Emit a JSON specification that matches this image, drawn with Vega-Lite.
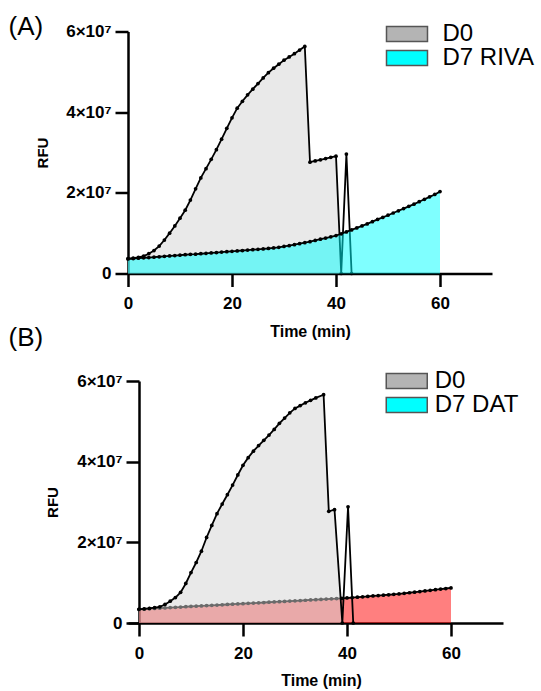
{
  "$schema": "https://vega.github.io/schema/vega-lite/v6.json",
  "background": "white",
  "padding": {"left": 8, "top": 13.5, "right": 2, "bottom": 0},
  "config": {
    "view": {"stroke": null},
    "font": "Liberation Sans",
    "axis": {
      "labelFont": "Liberation Sans", "titleFont": "Liberation Sans",
      "domainColor": "black", "domainWidth": 2.5, "tickColor": "black", "tickWidth": 2.5, "tickSize": 13,
      "labelColor": "black", "labelFontSize": 17, "labelFontWeight": "bold", "labelFlush": false,
      "titleColor": "black", "titleFontWeight": "bold", "grid": false
    },
    "legend": {
      "orient": "none", "title": null, "padding": 0,
      "symbolType": "M-2.733,-1H2.733V1H-2.733Z", "symbolSize": 225, "symbolOpacity": 1,
      "symbolStrokeColor": "#555555", "symbolStrokeWidth": 1.5,
      "labelFont": "Liberation Sans", "labelFontSize": 24, "labelColor": "black", "labelLimit": 300,
      "rowPadding": -3
    },
    "title": {"font": "Liberation Sans", "fontSize": 26, "fontWeight": "normal", "color": "black", "anchor": "start", "frame": "group"}
  },
  "datasets": {
    "A": [
      {"s": "D0", "t": 0, "v": 3.7e6}, {"s": "D0", "t": 1, "v": 3.8e6}, {"s": "D0", "t": 2, "v": 4.0e6}, {"s": "D0", "t": 3, "v": 4.3e6},
      {"s": "D0", "t": 4, "v": 4.9e6}, {"s": "D0", "t": 5, "v": 5.7e6}, {"s": "D0", "t": 6, "v": 6.8e6}, {"s": "D0", "t": 7, "v": 8.3e6},
      {"s": "D0", "t": 8, "v": 1.0e7}, {"s": "D0", "t": 9, "v": 1.18e7}, {"s": "D0", "t": 10, "v": 1.37e7}, {"s": "D0", "t": 11, "v": 1.57e7},
      {"s": "D0", "t": 12, "v": 1.82e7}, {"s": "D0", "t": 13, "v": 2.1e7}, {"s": "D0", "t": 14, "v": 2.37e7}, {"s": "D0", "t": 15, "v": 2.6e7},
      {"s": "D0", "t": 16, "v": 2.83e7}, {"s": "D0", "t": 17, "v": 3.07e7}, {"s": "D0", "t": 18, "v": 3.33e7}, {"s": "D0", "t": 19, "v": 3.6e7},
      {"s": "D0", "t": 20, "v": 3.86e7}, {"s": "D0", "t": 21, "v": 4.1e7}, {"s": "D0", "t": 22, "v": 4.27e7}, {"s": "D0", "t": 23, "v": 4.43e7},
      {"s": "D0", "t": 24, "v": 4.57e7}, {"s": "D0", "t": 25, "v": 4.71e7}, {"s": "D0", "t": 26, "v": 4.85e7}, {"s": "D0", "t": 27, "v": 4.98e7},
      {"s": "D0", "t": 28, "v": 5.09e7}, {"s": "D0", "t": 29, "v": 5.19e7}, {"s": "D0", "t": 30, "v": 5.29e7}, {"s": "D0", "t": 31, "v": 5.37e7},
      {"s": "D0", "t": 32, "v": 5.45e7}, {"s": "D0", "t": 33, "v": 5.54e7}, {"s": "D0", "t": 34, "v": 5.63e7}, {"s": "D0", "t": 35, "v": 2.76e7},
      {"s": "D0", "t": 36, "v": 2.79e7}, {"s": "D0", "t": 37, "v": 2.82e7}, {"s": "D0", "t": 38, "v": 2.85e7}, {"s": "D0", "t": 39, "v": 2.88e7},
      {"s": "D0", "t": 40, "v": 2.91e7}, {"s": "D0", "t": 41, "v": 0}, {"s": "D0", "t": 42, "v": 2.96e7}, {"s": "D0", "t": 43, "v": 0},
      {"s": "D7 RIVA", "t": 0, "v": 3.6e6}, {"s": "D7 RIVA", "t": 1, "v": 3.7e6}, {"s": "D7 RIVA", "t": 2, "v": 3.8e6}, {"s": "D7 RIVA", "t": 3, "v": 3.9e6},
      {"s": "D7 RIVA", "t": 4, "v": 3.95e6}, {"s": "D7 RIVA", "t": 5, "v": 4.05e6}, {"s": "D7 RIVA", "t": 6, "v": 4.15e6}, {"s": "D7 RIVA", "t": 7, "v": 4.25e6},
      {"s": "D7 RIVA", "t": 8, "v": 4.35e6}, {"s": "D7 RIVA", "t": 9, "v": 4.45e6}, {"s": "D7 RIVA", "t": 10, "v": 4.55e6}, {"s": "D7 RIVA", "t": 11, "v": 4.65e6},
      {"s": "D7 RIVA", "t": 12, "v": 4.75e6}, {"s": "D7 RIVA", "t": 13, "v": 4.8e6}, {"s": "D7 RIVA", "t": 14, "v": 4.9e6}, {"s": "D7 RIVA", "t": 15, "v": 5.0e6},
      {"s": "D7 RIVA", "t": 16, "v": 5.1e6}, {"s": "D7 RIVA", "t": 17, "v": 5.2e6}, {"s": "D7 RIVA", "t": 18, "v": 5.3e6}, {"s": "D7 RIVA", "t": 19, "v": 5.4e6},
      {"s": "D7 RIVA", "t": 20, "v": 5.5e6}, {"s": "D7 RIVA", "t": 21, "v": 5.6e6}, {"s": "D7 RIVA", "t": 22, "v": 5.7e6}, {"s": "D7 RIVA", "t": 23, "v": 5.8e6},
      {"s": "D7 RIVA", "t": 24, "v": 5.9e6}, {"s": "D7 RIVA", "t": 25, "v": 6.0e6}, {"s": "D7 RIVA", "t": 26, "v": 6.1e6}, {"s": "D7 RIVA", "t": 27, "v": 6.2e6},
      {"s": "D7 RIVA", "t": 28, "v": 6.35e6}, {"s": "D7 RIVA", "t": 29, "v": 6.5e6}, {"s": "D7 RIVA", "t": 30, "v": 6.7e6}, {"s": "D7 RIVA", "t": 31, "v": 6.9e6},
      {"s": "D7 RIVA", "t": 32, "v": 7.15e6}, {"s": "D7 RIVA", "t": 33, "v": 7.4e6}, {"s": "D7 RIVA", "t": 34, "v": 7.65e6}, {"s": "D7 RIVA", "t": 35, "v": 7.9e6},
      {"s": "D7 RIVA", "t": 36, "v": 8.2e6}, {"s": "D7 RIVA", "t": 37, "v": 8.5e6}, {"s": "D7 RIVA", "t": 38, "v": 8.8e6}, {"s": "D7 RIVA", "t": 39, "v": 9.1e6},
      {"s": "D7 RIVA", "t": 40, "v": 9.4e6}, {"s": "D7 RIVA", "t": 41, "v": 9.85e6}, {"s": "D7 RIVA", "t": 42, "v": 1.03e7}, {"s": "D7 RIVA", "t": 43, "v": 1.08e7},
      {"s": "D7 RIVA", "t": 44, "v": 1.13e7}, {"s": "D7 RIVA", "t": 45, "v": 1.18e7}, {"s": "D7 RIVA", "t": 46, "v": 1.23e7}, {"s": "D7 RIVA", "t": 47, "v": 1.285e7},
      {"s": "D7 RIVA", "t": 48, "v": 1.34e7}, {"s": "D7 RIVA", "t": 49, "v": 1.39e7}, {"s": "D7 RIVA", "t": 50, "v": 1.445e7}, {"s": "D7 RIVA", "t": 51, "v": 1.5e7},
      {"s": "D7 RIVA", "t": 52, "v": 1.555e7}, {"s": "D7 RIVA", "t": 53, "v": 1.61e7}, {"s": "D7 RIVA", "t": 54, "v": 1.665e7}, {"s": "D7 RIVA", "t": 55, "v": 1.72e7},
      {"s": "D7 RIVA", "t": 56, "v": 1.78e7}, {"s": "D7 RIVA", "t": 57, "v": 1.84e7}, {"s": "D7 RIVA", "t": 58, "v": 1.9e7}, {"s": "D7 RIVA", "t": 59, "v": 1.96e7},
      {"s": "D7 RIVA", "t": 60, "v": 2.03e7}
    ],
    "B": [
      {"s": "D0", "t": 0, "v": 3.4e6}, {"s": "D0", "t": 1, "v": 3.5e6}, {"s": "D0", "t": 2, "v": 3.6e6}, {"s": "D0", "t": 3, "v": 3.8e6},
      {"s": "D0", "t": 4, "v": 4.0e6}, {"s": "D0", "t": 5, "v": 4.6e6}, {"s": "D0", "t": 6, "v": 5.4e6}, {"s": "D0", "t": 7, "v": 6.3e6},
      {"s": "D0", "t": 8, "v": 7.6e6}, {"s": "D0", "t": 9, "v": 9.8e6}, {"s": "D0", "t": 10, "v": 1.25e7}, {"s": "D0", "t": 11, "v": 1.5e7},
      {"s": "D0", "t": 12, "v": 1.78e7}, {"s": "D0", "t": 13, "v": 2.12e7}, {"s": "D0", "t": 14, "v": 2.42e7}, {"s": "D0", "t": 15, "v": 2.71e7},
      {"s": "D0", "t": 16, "v": 2.95e7}, {"s": "D0", "t": 17, "v": 3.18e7}, {"s": "D0", "t": 18, "v": 3.42e7}, {"s": "D0", "t": 19, "v": 3.67e7},
      {"s": "D0", "t": 20, "v": 3.91e7}, {"s": "D0", "t": 21, "v": 4.1e7}, {"s": "D0", "t": 22, "v": 4.26e7}, {"s": "D0", "t": 23, "v": 4.4e7},
      {"s": "D0", "t": 24, "v": 4.53e7}, {"s": "D0", "t": 25, "v": 4.66e7}, {"s": "D0", "t": 26, "v": 4.8e7}, {"s": "D0", "t": 27, "v": 4.95e7},
      {"s": "D0", "t": 28, "v": 5.08e7}, {"s": "D0", "t": 29, "v": 5.21e7}, {"s": "D0", "t": 30, "v": 5.32e7}, {"s": "D0", "t": 31, "v": 5.39e7},
      {"s": "D0", "t": 32, "v": 5.46e7}, {"s": "D0", "t": 33, "v": 5.52e7}, {"s": "D0", "t": 34, "v": 5.58e7}, {"s": "D0", "t": 35.5, "v": 5.66e7},
      {"s": "D0", "t": 36.5, "v": 2.77e7}, {"s": "D0", "t": 37.6, "v": 2.81e7}, {"s": "D0", "t": 39.1, "v": 0}, {"s": "D0", "t": 40.2, "v": 2.88e7},
      {"s": "D0", "t": 41.2, "v": 0},
      {"s": "D7 DAT", "t": 0, "v": 3.4e6}, {"s": "D7 DAT", "t": 1, "v": 3.47e6}, {"s": "D7 DAT", "t": 2, "v": 3.54e6}, {"s": "D7 DAT", "t": 3, "v": 3.61e6},
      {"s": "D7 DAT", "t": 4, "v": 3.68e6}, {"s": "D7 DAT", "t": 5, "v": 3.75e6}, {"s": "D7 DAT", "t": 6, "v": 3.82e6}, {"s": "D7 DAT", "t": 7, "v": 3.89e6},
      {"s": "D7 DAT", "t": 8, "v": 3.96e6}, {"s": "D7 DAT", "t": 9, "v": 4.03e6}, {"s": "D7 DAT", "t": 10, "v": 4.1e6}, {"s": "D7 DAT", "t": 11, "v": 4.17e6},
      {"s": "D7 DAT", "t": 12, "v": 4.24e6}, {"s": "D7 DAT", "t": 13, "v": 4.31e6}, {"s": "D7 DAT", "t": 14, "v": 4.38e6}, {"s": "D7 DAT", "t": 15, "v": 4.45e6},
      {"s": "D7 DAT", "t": 16, "v": 4.52e6}, {"s": "D7 DAT", "t": 17, "v": 4.59e6}, {"s": "D7 DAT", "t": 18, "v": 4.66e6}, {"s": "D7 DAT", "t": 19, "v": 4.73e6},
      {"s": "D7 DAT", "t": 20, "v": 4.8e6}, {"s": "D7 DAT", "t": 21, "v": 4.87e6}, {"s": "D7 DAT", "t": 22, "v": 4.94e6}, {"s": "D7 DAT", "t": 23, "v": 5.01e6},
      {"s": "D7 DAT", "t": 24, "v": 5.08e6}, {"s": "D7 DAT", "t": 25, "v": 5.15e6}, {"s": "D7 DAT", "t": 26, "v": 5.22e6}, {"s": "D7 DAT", "t": 27, "v": 5.29e6},
      {"s": "D7 DAT", "t": 28, "v": 5.36e6}, {"s": "D7 DAT", "t": 29, "v": 5.43e6}, {"s": "D7 DAT", "t": 30, "v": 5.5e6}, {"s": "D7 DAT", "t": 31, "v": 5.57e6},
      {"s": "D7 DAT", "t": 32, "v": 5.64e6}, {"s": "D7 DAT", "t": 33, "v": 5.71e6}, {"s": "D7 DAT", "t": 34, "v": 5.78e6}, {"s": "D7 DAT", "t": 35, "v": 5.85e6},
      {"s": "D7 DAT", "t": 36, "v": 5.92e6}, {"s": "D7 DAT", "t": 37, "v": 5.99e6}, {"s": "D7 DAT", "t": 38, "v": 6.06e6}, {"s": "D7 DAT", "t": 39, "v": 6.13e6},
      {"s": "D7 DAT", "t": 40, "v": 6.2e6}, {"s": "D7 DAT", "t": 41, "v": 6.3e6}, {"s": "D7 DAT", "t": 42, "v": 6.4e6}, {"s": "D7 DAT", "t": 43, "v": 6.5e6},
      {"s": "D7 DAT", "t": 44, "v": 6.6e6}, {"s": "D7 DAT", "t": 45, "v": 6.7e6}, {"s": "D7 DAT", "t": 46, "v": 6.8e6}, {"s": "D7 DAT", "t": 47, "v": 6.9e6},
      {"s": "D7 DAT", "t": 48, "v": 7.0e6}, {"s": "D7 DAT", "t": 49, "v": 7.1e6}, {"s": "D7 DAT", "t": 50, "v": 7.2e6}, {"s": "D7 DAT", "t": 51, "v": 7.35e6},
      {"s": "D7 DAT", "t": 52, "v": 7.5e6}, {"s": "D7 DAT", "t": 53, "v": 7.65e6}, {"s": "D7 DAT", "t": 54, "v": 7.8e6}, {"s": "D7 DAT", "t": 55, "v": 7.95e6},
      {"s": "D7 DAT", "t": 56, "v": 8.1e6}, {"s": "D7 DAT", "t": 57, "v": 8.25e6}, {"s": "D7 DAT", "t": 58, "v": 8.4e6}, {"s": "D7 DAT", "t": 59, "v": 8.55e6},
      {"s": "D7 DAT", "t": 60, "v": 8.7e6}
    ]
  },
  "concat": [
    {
      "width": 364, "height": 242,
      "title": {"text": "(A)", "dx": -119.5, "offset": -18},
      "data": {"name": "A"},
      "encoding": {
        "x": {"field": "t", "type": "quantitative", "title": "Time (min)",
              "scale": {"domain": [0, 70], "nice": false, "zero": false},
              "axis": {"values": [0, 20, 40, 60], "tickSize": 13, "labelPadding": 9, "titleFontSize": 16, "titlePadding": 12}},
        "y": {"field": "v", "type": "quantitative", "title": "RFU",
              "scale": {"domain": [0, 60000000], "nice": false},
              "axis": {"values": [0, 20000000, 40000000, 60000000], "tickSize": 13, "labelExpr": "datum.value == 0 ? '0' : format(datum.value / 10000000, 'd') + '×10⁷'",
                       "labelPadding": 4, "titleFontSize": 15, "titlePadding": 15}}
      },
      "layer": [
        {"transform": [{"filter": "datum.s == 'D0' && datum.t <= 41"}],
         "mark": {"type": "area", "color": "#d4d4d4", "opacity": 0.5}},
        {"transform": [{"filter": "datum.s == 'D0'"}],
         "mark": {"type": "line", "color": "black", "strokeWidth": 1.8, "point": {"filled": true, "size": 14, "color": "black"}}},
        {"transform": [{"filter": "datum.s == 'D7 RIVA'"}],
         "mark": {"type": "area", "color": "#00ffff", "opacity": 0.5}},
        {"transform": [{"filter": "datum.s == 'D7 RIVA'"}],
         "mark": {"type": "line", "color": "black", "strokeWidth": 1.8, "point": {"filled": true, "size": 14, "color": "black"}}},
        {"mark": {"type": "square", "opacity": 0},
         "encoding": {"color": {"field": "s", "type": "nominal",
           "scale": {"domain": ["D0", "D7 RIVA"], "range": ["#b4b4b4", "#00ffff"]},
           "legend": {"legendX": 267, "legendY": -9.5, "labelOffset": 23.5,
             "encode": {"symbols": {"update": {"stroke": {"value": "#555555"}, "strokeWidth": {"value": 1.5}, "opacity": {"value": 1}}}}}}}}
      ]
    },
    {
      "width": 375, "height": 242,
      "title": {"text": "(B)", "dx": -119.5, "offset": 18},
      "data": {"name": "B"},
      "encoding": {
        "x": {"field": "t", "type": "quantitative", "title": "Time (min)",
              "scale": {"domain": [-2.115, 70], "nice": false, "zero": false},
              "axis": {"values": [0, 20, 40, 60], "tickSize": 13, "labelPadding": 9, "titleFontSize": 16, "titlePadding": 11, "titleX": 193}},
        "y": {"field": "v", "type": "quantitative", "title": "RFU",
              "scale": {"domain": [0, 60000000], "nice": false},
              "axis": {"offset": -11, "tickSize": 13, "values": [0, 20000000, 40000000, 60000000], "labelExpr": "datum.value == 0 ? '0' : format(datum.value / 10000000, 'd') + '×10⁷'",
                       "labelPadding": 4, "titleFontSize": 15, "titlePadding": 16}}
      },
      "layer": [
        {"transform": [{"filter": "datum.s == 'D7 DAT'"}],
         "mark": {"type": "area", "color": "#ff0000", "opacity": 0.5}},
        {"transform": [{"filter": "datum.s == 'D7 DAT'"}],
         "mark": {"type": "line", "color": "black", "strokeWidth": 1.8, "point": {"filled": true, "size": 14, "color": "black"}}},
        {"transform": [{"filter": "datum.s == 'D0' && datum.t <= 39.1"}],
         "mark": {"type": "area", "color": "#d4d4d4", "opacity": 0.5}},
        {"transform": [{"filter": "datum.s == 'D0'"}],
         "mark": {"type": "line", "color": "black", "strokeWidth": 1.8, "point": {"filled": true, "size": 14, "color": "black"}}},
        {"mark": {"type": "square", "opacity": 0},
         "encoding": {"color": {"field": "s", "type": "nominal",
           "scale": {"domain": ["D0", "D7 DAT"], "range": ["#b4b4b4", "#00ffff"]},
           "legend": {"legendX": 266.75, "legendY": -12, "labelOffset": 16,
             "encode": {"symbols": {"update": {"stroke": {"value": "#555555"}, "strokeWidth": {"value": 1.5}, "opacity": {"value": 1}}}}}}}}
      ]
    }
  ],
  "columns": 1,
  "spacing": -14.5,
  "resolve": {"scale": {"color": "independent", "x": "independent", "y": "independent"}, "legend": {"color": "independent"}}
}
